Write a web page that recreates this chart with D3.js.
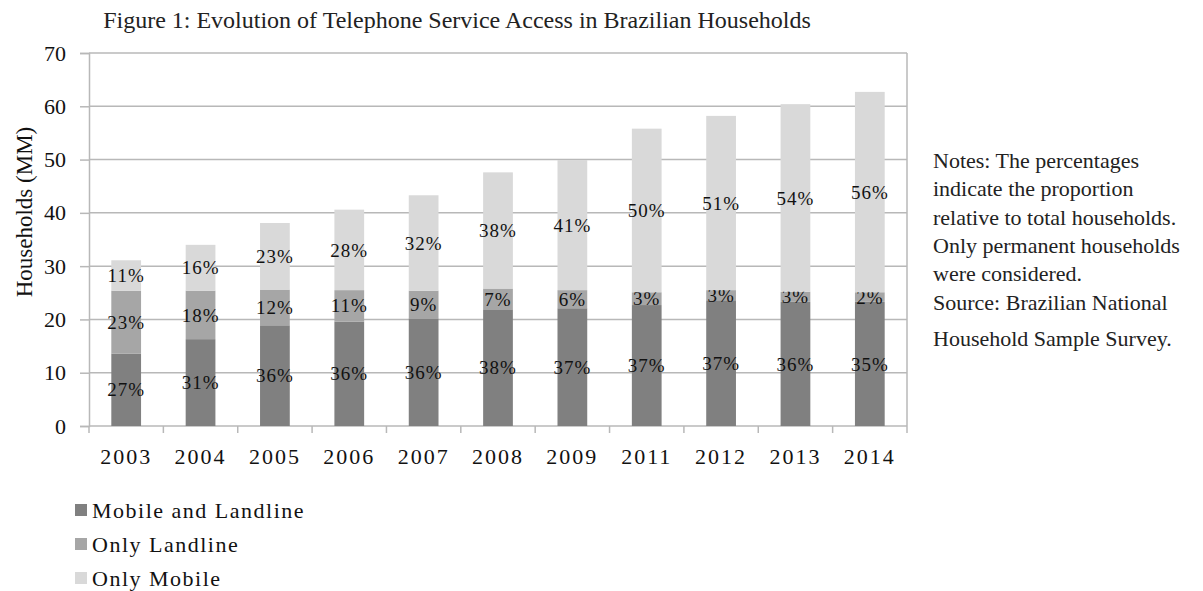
<!DOCTYPE html>
<html>
<head>
<meta charset="utf-8">
<script src="https://cdn.jsdelivr.net/npm/d3@7"></script>
<style>
  body { margin: 0; background: #fff; }
  svg { display: block; font-family: "Liberation Serif", "Times New Roman", serif; }
</style>
</head>
<body>
<div id="chart1"></div>
<script>
let years = ["2003", "2004", "2005", "2006", "2007", "2008", "2009", "2011", "2012", "2013", "2014"];
// households in millions
let mobileAndLandline = [13.6, 16.3, 18.9, 19.6, 20.2, 21.9, 22.1, 22.7, 23.6, 23.3, 23.3];
let onlyLandline = [11.8, 9.1, 6.7, 5.9, 5.2, 3.9, 3.4, 2.4, 1.9, 1.9, 1.8];
let onlyMobile = [5.7, 8.6, 12.5, 15.1, 17.9, 21.8, 24.4, 30.7, 32.7, 35.2, 37.6];
// labels printed on the bars (share of total households)
let pctMobileAndLandline = [27, 31, 36, 36, 36, 38, 37, 37, 37, 36, 35];
let pctOnlyLandline = [23, 18, 12, 11, 9, 7, 6, 3, 3, 3, 2];
let pctOnlyMobile = [11, 16, 23, 28, 32, 38, 41, 50, 51, 54, 56];
let yTicks = [0, 10, 20, 30, 40, 50, 60, 70];
let seriesNames = ["Mobile and Landline", "Only Landline", "Only Mobile"];
let notes = [
    "Notes: The percentages",
    "indicate the proportion",
    "relative to total households.",
    "Only permanent households",
    "were considered.",
    "Source: Brazilian National",
    "Household Sample Survey."
];

let keys = ["ml", "l", "m"];
let rows = years.map((yr, i) => ({
    year: yr,
    ml: mobileAndLandline[i], l: onlyLandline[i], m: onlyMobile[i],
    pct: { ml: pctMobileAndLandline[i], l: pctOnlyLandline[i], m: pctOnlyMobile[i] }
}));

let fullWidth = 1203, fullHeight = 591;
let margin = { top: 53, right: 296, bottom: 165, left: 89 };
let width = fullWidth - margin.left - margin.right;
let height = fullHeight - margin.top - margin.bottom;

let root = d3.select("#chart1").append("svg")
    .attr("width", fullWidth)
    .attr("height", fullHeight);

let svg = root.append("g")
    .attr("transform", `translate(${margin.left},${margin.top})`);

let x = d3.scaleBand()
    .domain(years)
    .range([0, width])
    .paddingInner(0.6)
    .paddingOuter(0.3);

let y = d3.scaleLinear()
    .domain([0, 70])
    .range([height, 0]);

let color = d3.scaleOrdinal()
    .domain(keys)
    .range(["#808080", "#a6a6a6", "#d9d9d9"]);

let gridColor = "#b8b8b8";

root.append("text")
    .attr("x", 457)
    .attr("y", 28)
    .attr("text-anchor", "middle")
    .style("font-size", "24px")
    .style("fill", "#222")
    .text("Figure 1: Evolution of Telephone Service Access in Brazilian Households");

// grid + y axis
let yAxis = svg.append("g")
    .call(d3.axisLeft(y).tickValues(yTicks).tickSize(9).tickPadding(14));
yAxis.attr("font-family", null);
yAxis.select(".domain").attr("stroke", gridColor).attr("stroke-width", 1.5);
yAxis.selectAll("line").attr("stroke", gridColor).attr("stroke-width", 1.5);
yAxis.selectAll("text")
    .style("font-size", "22px")
    .style("fill", "#111");

svg.append("g")
    .selectAll("line")
    .data(yTicks.filter(d => d > 0))
    .enter()
    .append("line")
    .attr("x1", 0)
    .attr("x2", width)
    .attr("y1", d => y(d))
    .attr("y2", d => y(d))
    .attr("stroke", gridColor)
    .attr("stroke-width", 1.5);

// right border of plot area
svg.append("line")
    .attr("x1", width).attr("x2", width)
    .attr("y1", 0).attr("y2", height)
    .attr("stroke", gridColor)
    .attr("stroke-width", 1.5);

// x axis: ticks sit between categories
let xAxis = svg.append("g")
    .attr("transform", `translate(0,${height})`);
xAxis.append("line")
    .attr("x1", 0).attr("x2", width)
    .attr("stroke", gridColor)
    .attr("stroke-width", 1.5);
xAxis.selectAll(".xtick")
    .data(d3.range(years.length + 1))
    .enter()
    .append("line")
    .attr("class", "xtick")
    .attr("x1", i => i * x.step())
    .attr("x2", i => i * x.step())
    .attr("y1", 0)
    .attr("y2", 7)
    .attr("stroke", gridColor)
    .attr("stroke-width", 1.5);
xAxis.selectAll(".xlabel")
    .data(years)
    .enter()
    .append("text")
    .attr("class", "xlabel")
    .attr("x", d => x(d) + x.bandwidth() / 2)
    .attr("y", 30)
    .attr("dy", "0.35em")
    .attr("text-anchor", "middle")
    .style("font-size", "22px")
    .style("letter-spacing", "2px")
    .style("fill", "#111")
    .text(d => d);

// stacked bars
let stacked = d3.stack().keys(keys)(rows);

let layers = svg.selectAll(".layer")
    .data(stacked)
    .enter()
    .append("g")
    .attr("class", "layer")
    .attr("fill", d => color(d.key));

layers.selectAll("rect")
    .data(d => d)
    .enter()
    .append("rect")
    .attr("x", d => x(d.data.year))
    .attr("y", d => y(d[1]))
    .attr("width", x.bandwidth())
    .attr("height", d => y(d[0]) - y(d[1]));

layers.each(function(layer) {
    d3.select(this).selectAll(".bar-label")
        .data(layer)
        .enter()
        .append("text")
        .attr("class", "bar-label")
        .attr("x", d => x(d.data.year) + x.bandwidth() / 2)
        .attr("y", d => y((d[0] + d[1]) / 2))
        .attr("dy", "0.35em")
        .attr("text-anchor", "middle")
        .style("font-size", "19px")
        .style("letter-spacing", "1px")
        .style("fill", "#111")
        .text(d => d.data.pct[layer.key] + "%");
});

root.append("text")
    .attr("transform", `translate(24,${212}) rotate(-90)`)
    .attr("text-anchor", "middle")
    .attr("dy", "0.35em")
    .style("font-size", "23px")
    .style("fill", "#111")
    .text("Households (MM)");

// legend
let legend = root.append("g")
    .attr("transform", "translate(75, 510)");

legend.selectAll(".legend-item")
    .data(keys)
    .enter()
    .append("g")
    .attr("class", "legend-item")
    .attr("transform", (d, i) => `translate(0, ${i * 34})`)
    .each(function(d, i) {
        let g = d3.select(this);
        g.append("rect")
            .attr("y", -6)
            .attr("width", 12)
            .attr("height", 12)
            .attr("fill", color(d));
        g.append("text")
            .attr("x", 17)
            .attr("dy", "0.35em")
            .style("font-size", "22px")
            .style("letter-spacing", "1.5px")
            .style("fill", "#111")
            .text(seriesNames[i]);
    });

// side notes
let noteY = [160, 188, 217, 245, 273, 302, 338];
root.append("g")
    .selectAll("text")
    .data(notes)
    .enter()
    .append("text")
    .attr("x", 933)
    .attr("y", (d, i) => noteY[i])
    .attr("dy", "0.35em")
    .style("font-size", "22px")
    .style("fill", "#222")
    .text(d => d);
</script>
</body>
</html>
